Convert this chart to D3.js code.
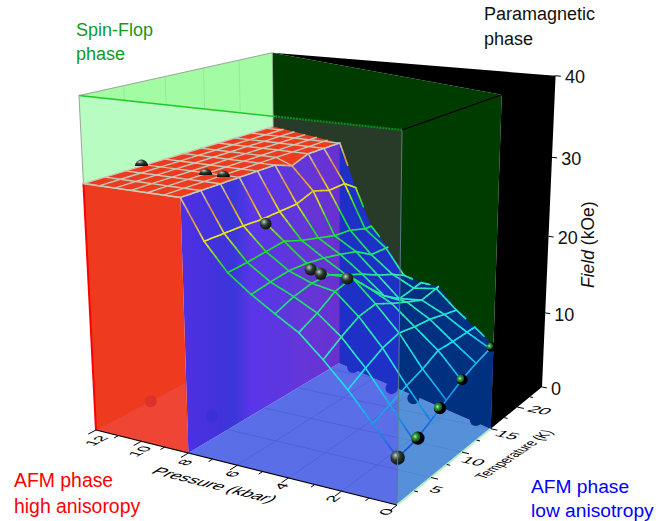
<!DOCTYPE html>
<html>
<head>
<meta charset="utf-8">
<style>
  body { margin: 0; background: #fff; }
  text { font-family: "Liberation Sans", Arial, sans-serif; }
</style>
<script src="https://cdn.jsdelivr.net/npm/d3@7"></script>
</head>
<body>
<svg id="chart" width="669" height="521"></svg>
<script>
// axis ticks
const pressureTicks = [0, 2, 4, 6, 8, 10, 12];
const pressureMinor = [1, 3, 5, 7, 9, 11];
const tempTicks = [5, 10, 15, 20];
const tempMinor = [2.5, 7.5, 12.5, 17.5, 22.5];
const fieldTicks = [0, 10, 20, 30, 40];

// surface H(P,T): one row per pressure, each row stops at the boundary T_N(P)
const meshPressures = [0, 0.89, 1.78, 2.67, 3.56, 4.44, 5.33, 6.22, 7.11, 8];
const meshTemps = [
    [0, 2.4, 4.8, 7.2, 9.6, 12, 14.4, 15],
    [0, 2.4, 4.8, 7.2, 9.6, 12, 14.4, 15.75],
    [0, 2.4, 4.8, 7.2, 9.6, 12, 14.4, 16.5],
    [0, 2.4, 4.8, 7.2, 9.6, 12, 14.4, 16.8, 17.2],
    [0, 2.4, 4.8, 7.2, 9.6, 12, 14.4, 16.8, 18],
    [0, 2.4, 4.8, 7.2, 9.6, 12, 14.4, 16.8, 18.7],
    [0, 2.4, 4.8, 7.2, 9.6, 12, 14.4, 16.8, 19.2, 19.5],
    [0, 2.4, 4.8, 7.2, 9.6, 12, 14.4, 16.8, 19.2, 20.2],
    [0, 2.4, 4.8, 7.2, 9.6, 12, 14.4, 16.8, 19.2, 21],
    [0, 2.4, 4.8, 7.2, 9.6, 12, 14.4, 16.8, 19.2, 21.7]
];
const meshFields = [
    [5.4, 5.8, 6.8, 7.9, 9.0, 9.8, 10.4, 10.5],
    [8.6, 9.4, 10.3, 11.0, 12.0, 11.9, 11.9, 11.9],
    [11.8, 13.0, 14.1, 14.7, 14.3, 14.1, 13.6, 13.2],
    [14.6, 16.0, 17.2, 17.6, 16.6, 15.7, 14.9, 15.3, 15.4],
    [17.1, 18.2, 19.6, 20.2, 18.0, 16.0, 14.6, 14.9, 15.1],
    [18.7, 19.6, 20.1, 20.1, 19.1, 18.2, 17.1, 16.2, 15.3],
    [20.4, 20.8, 21.1, 21.0, 20.7, 20.2, 19.6, 18.3, 18.2, 18.2],
    [22.4, 22.6, 22.9, 23.2, 22.4, 21.8, 21.2, 21.0, 20.3, 20.3],
    [25.5, 25.5, 25.5, 25.4, 25.5, 25.6, 26.4, 25.7, 25.8, 24.7],
    [30, 30, 30, 30, 30, 30, 29.2, 30, 30, 30]
];

// plateau above 8 kbar, flat at 30 kOe
const plateauPressures = [8, 8.67, 9.33, 10, 10.67, 11.33, 12];
const plateauTempEnd = [21.7, 22.2, 22.8, 23.3, 23.9, 24.4, 25];
const plateauTemps = [0, 2.4, 4.8, 7.2, 9.6, 12, 14.4, 16.8, 19.2, 21.6, 24];
const plateauField = 30;

// measured points
const pointP = [7.11, 5, 4.44, 3.56, 0, 0, 0, 0, 0];
const pointT = [7.7, 6.6, 6.0, 6.5, 0, 2.9, 6.2, 9.7, 14.6];
const pointH = [24.7, 20.7, 20.7, 20.4, 5.4, 5.9, 7.5, 9.0, 10.5];
const domeP = [12, 9.2, 8.5];
const domeT = [6.7, 6.6, 6.7];
const bumpP = [7.3, 4.9, 3.7, 0.8];
const bumpT = [21.4, 18.7, 17.6, 16.0];

// paramagnetic boundary T_N(P)
const boundaryT = [15, 21.7, 25];

const pScale = d3.scaleLinear().domain([0, 12]).range([0, 1]);
const tScale = d3.scaleLinear().domain([0, 25]).range([0, 1]);
const hScale = d3.scaleLinear().domain([0, 40]).range([0, 1]);

// perspective camera, fitted to the box corners of the picture
const persp = [0.129, 0.218, -0.075];
const origin = [397, 505];
const axisEnds = [[96, 430], [542, 387], [402, 130]];
const coef = axisEnds.map((e, i) => [e[0] * (1 + persp[i]) - origin[0], e[1] * (1 + persp[i]) - origin[1]]);

function project(P, T, H) {
    const q = [pScale(P), tScale(T), hScale(H)];
    const den = 1 + d3.sum(q, (d, i) => d * persp[i]);
    return [0, 1].map(k => (origin[k] + d3.sum(q, (d, i) => d * coef[i][k])) / den);
}

const svg = d3.select("#chart");
const defs = svg.append("defs");
const line = d3.line();

function poly(parent, pts, fill) {
    return parent.append("path")
        .attr("d", line(pts.map(p => project(p[0], p[1], p[2]))) + "Z")
        .attr("fill", fill);
}
function seg(parent, a, b, color, width) {
    return parent.append("path")
        .attr("d", line([project(a[0], a[1], a[2]), project(b[0], b[1], b[2])]))
        .attr("fill", "none").attr("stroke", color).attr("stroke-width", width);
}
function clip(id, pts) {
    defs.append("clipPath").attr("id", id).append("path")
        .attr("d", line(pts.map(p => project(p[0], p[1], p[2]))) + "Z");
}

const tn0 = boundaryT[0], tn8 = boundaryT[1], tn12 = boundaryT[2];

const leftWallPts = [[12, 0, 40], [12, tn12, 40], [12, tn12, 30], [12, 0, 30]];
const darkWallPts = [[12, tn12, 40], [0, tn0, 40], [0, tn0, 0], [12, tn12, 0]];
const sideFacePts = [[0, 0, 0], [0, tn0, 0], [0, tn0, 40], [0, 0, 40]];
const floorPts = [[8, 0, 0], [8, tn8, 0], [0, tn0, 0], [0, 0, 0]];
clip("clipLeft", leftWallPts);
clip("clipDark", darkWallPts);
clip("clipSide", sideFacePts);
clip("clipFloor", floorPts);

// back of the box
poly(svg, [[12, 25, 40], [0, 25, 40], [0, 25, 0], [0, tn0, 0], [0, tn0, 40]], "#000");
poly(svg, darkWallPts, "#003c00");
poly(svg, leftWallPts, "#a3fba3");
tempTicks.forEach(t => seg(svg, [12, t, 30], [12, t, 40], "#8fe498", 0.7));

// front face seen against each wall
const frontPts = [[12, 0, 40], [0, 0, 40], [0, 0, 0], [12, 0, 0]];
poly(svg.append("g").attr("clip-path", "url(#clipLeft)"), frontPts, "#b9fcc1");
poly(svg.append("g").attr("clip-path", "url(#clipDark)"), frontPts, "#283a28");

// wall under the surface, from the last vertex of each row
const lastCol = meshPressures.map((p, i) => [p, meshTemps[i][meshTemps[i].length - 1], meshFields[i][meshFields[i].length - 1]]).reverse();
const underWallPts = lastCol.concat([[0, tn0, 0], [8, tn8, 0]]);

function drawBase(parent, floorFill, wallFill, gridColor) {
    poly(parent, floorPts, floorFill);
    const grid = parent.append("g").attr("clip-path", "url(#clipFloor)");
    tempTicks.forEach(t => seg(grid, [0, t, 0], [8, t, 0], gridColor, 0.7));
    pressureTicks.filter(p => p > 0 && p < 8).forEach(p => seg(grid, [p, 0, 0], [p, 25, 0], gridColor, 0.7));
    poly(parent, underWallPts, wallFill);
    bumpP.forEach((p, i) => {
        const c = project(p, bumpT[i], 0);
        parent.append("circle").attr("cx", c[0]).attr("cy", c[1]).attr("r", 6).attr("fill", wallFill);
    });
}

drawBase(svg.append("g"), "#5a6ee8", "#1f30c6", "#4c5cd8");

// purple wall at 8 kbar
const purple = defs.append("linearGradient").attr("id", "purple")
    .attr("gradientUnits", "userSpaceOnUse")
    .attr("x1", project(8, 0, 0)[0]).attr("x2", project(8, tn8, 0)[0])
    .attr("y1", 0).attr("y2", 0);
[[0, "#4c30e2"], [0.2, "#4232dc"], [0.3, "#3a36d8"], [0.42, "#5a36e8"], [0.6, "#5c36e0"], [0.75, "#6436d8"], [1, "#6a30d0"]]
    .forEach(s => purple.append("stop").attr("offset", s[0]).attr("stop-color", s[1]));
const edge8 = meshTemps[9].map((t, j) => [8, t, meshFields[9][j]]);
poly(svg, [[8, 0, 0]].concat(edge8, [[8, tn8, 0]]), "url(#purple)");

// same floor and wall through the side face
drawBase(svg.append("g").attr("clip-path", "url(#clipSide)"), "#5590d8", "#003080", "#4d84cc");

// red front, 8 to 12 kbar
poly(svg, [[12, 0, 0], [8, 0, 0], [8, 0, 30], [12, 0, 30]], "#ee3a1e");
poly(svg, [[12, 0, 0], [12, 11.3, 0], [8, 0, 0]], "#ee4535");
seg(svg, [12, 0, 0], [12, 0, 30], "#ff0000", 2);

// faint ball projections on the floor
const f1 = project(domeP[0], domeT[0], 0), f2 = project(domeP[1], domeT[1], 0);
svg.append("circle").attr("cx", f1[0]).attr("cy", f1[1]).attr("r", 6).attr("fill", "#dc322c");
svg.append("circle").attr("cx", f2[0]).attr("cy", f2[1]).attr("r", 6).attr("fill", "#3a30d4");

// plateau
poly(svg, [[12, 0, 30], [8, 0, 30]].concat(edge8, [[12, tn12, 30]]), "#ee3a1e");
const plateauCol = "#c8c8b4";
const plateauGrid = svg.append("g").attr("fill", "none").attr("stroke", plateauCol).attr("stroke-width", 1.4);
plateauPressures.slice(1).forEach((p, i) => {
    const end = plateauTempEnd[i + 1];
    const temps = plateauTemps.filter(t => t < end).concat([end]);
    plateauGrid.append("path").attr("d", line(temps.map(t => project(p, t, plateauField))));
});
plateauTemps.forEach((t, j) => {
    const pts = plateauPressures.filter((p, i) => t <= plateauTempEnd[i]);
    const first = j < meshFields[9].length - 1 ? project(8, t, meshFields[9][j]) : null;
    const path = pts.map(p => project(p, t, plateauField));
    if (first) path[0] = first;
    if (path.length > 1) plateauGrid.append("path").attr("d", line(path));
});

// balls
function ballGradient(id, cx, cy, r, stops) {
    const g = defs.append("radialGradient").attr("id", id)
        .attr("cx", cx).attr("cy", cy).attr("r", r);
    stops.forEach(s => g.append("stop").attr("offset", s[0]).attr("stop-color", s[1]));
}
ballGradient("ballGray", 0.36, 0.34, 0.72, [[0, "#cfdccf"], [0.18, "#7d8d84"], [0.45, "#2c3a32"], [0.85, "#101a14"], [1, "#060a08"]]);
ballGradient("ballGreen", 0.3, 0.38, 0.82, [[0, "#c0ecb8"], [0.2, "#36963c"], [0.42, "#0e601c"], [0.5, "#000"], [1, "#000"]]);

const ballR = d3.scaleLinear().domain([0, 15]).range([7.2, 4.6]);

// domes half sunk in the plateau
domeP.forEach((p, i) => {
    const c = project(p, domeT[i], plateauField);
    const r = 6.5;
    svg.append("path")
        .attr("d", `M${c[0] - r},${c[1]}A${r},${r} 0 0 1 ${c[0] + r},${c[1]}Z`)
        .attr("fill", "url(#ballGray)");
});

// mesh, coloured by field
const meshColor = d3.scaleLinear()
    .domain([5, 8, 12, 16, 20, 23, 25.5, 28, 30])
    .range(["#1c3ce0", "#1a90e0", "#18e0f0", "#30e8b0", "#18e060", "#20e020", "#e8e818", "#e09030", "#c8c8b4"]);
const steps = d3.range(6);
const mesh = svg.append("g").attr("fill", "none").attr("stroke-width", 1.6).attr("stroke-linecap", "round");

function meshEdge(a, b, part) {
    steps.forEach(k => {
        const t0 = part * k / steps.length, t1 = part * (k + 1) / steps.length;
        const at = t => a.map((v, n) => v + (b[n] - v) * t);
        const p0 = at(t0), p1 = at(t1);
        mesh.append("path")
            .attr("d", line([project(p0[0], p0[1], p0[2]), project(p1[0], p1[1], p1[2])]))
            .attr("stroke", meshColor((p0[2] + p1[2]) / 2));
    });
}
meshPressures.forEach((p, i) => {
    meshTemps[i].forEach((t, j) => {
        const here = [p, t, meshFields[i][j]];
        const lastHere = j === meshTemps[i].length - 1;
        if (!lastHere) meshEdge(here, [p, meshTemps[i][j + 1], meshFields[i][j + 1]], 1);
        if (i < 9 && j < meshTemps[i + 1].length) {
            const lastNext = j === meshTemps[i + 1].length - 1;
            const next = [meshPressures[i + 1], meshTemps[i + 1][j], meshFields[i + 1][j]];
            // along the boundary only a stub is drawn, from the higher pressure side
            if (lastHere && lastNext) meshEdge(next, here, 0.5);
            else meshEdge(here, next, 1);
        }
    });
});

pointP.forEach((p, i) => {
    const c = project(p, pointT[i], pointH[i]);
    const green = p === 0 && pointT[i] > 0;
    svg.append("circle").attr("cx", c[0]).attr("cy", c[1]).attr("r", ballR(pointT[i]))
        .attr("fill", green ? "url(#ballGreen)" : "url(#ballGray)");
});

// box edges
seg(svg, [12, 0, 40], [12, 0, 30], "#9aa69a", 1);
seg(svg, [12, 0, 40], [12, 25, 40], "#9aa69a", 1);
seg(svg, [12, 25, 40], [12, 25, 30], "#90a890", 0.8);
seg(svg, [12, 0, 40], [4.35, 0, 40], "#20c828", 1.6);
seg(svg, [4.35, 0, 40], [0, 0, 40], "#0a8c1e", 2.2).attr("stroke-dasharray", "2,1");
seg(svg, [0, 0, 40], [0, tn0, 40], "#001c00", 1);
seg(svg, [0, 0, 40], [0, 0, 0], "#5f7b86", 1);
seg(svg, [12, 0, 30], [8, 0, 30], plateauCol, 1.6);

// axes
seg(svg, [12, 0, 0], [0, 0, 0], "#000", 1.2);
seg(svg, [0, 0, 0], [0, tn0, 0], "#b4f0c4", 2);
seg(svg, [0, 0, 40], [0, 25, 40], "#000", 1);

function dir(a, b) {
    const p = project(a[0], a[1], a[2]), q = project(b[0], b[1], b[2]);
    const len = Math.hypot(q[0] - p[0], q[1] - p[1]);
    return [(q[0] - p[0]) / len, (q[1] - p[1]) / len];
}
// text lying on the floor: along e1, glyph bottom towards e2
function floorText(str, at, e1, e2, s1, s2, size) {
    return svg.append("text")
        .attr("transform", `matrix(${e1[0] * s1},${e1[1] * s1},${e2[0] * s2},${e2[1] * s2},${at[0]},${at[1]})`)
        .attr("text-anchor", "middle").attr("font-size", size).attr("fill", "#000").text(str);
}

const pLabelDx = d3.scaleLinear().domain([0, 12]).range([-6, 5]);
const pLabelDy = d3.scaleLinear().domain([0, 12]).range([8, 12]);
pressureMinor.forEach(p => seg(svg, [p, 0, 0], [p, -0.5, 0], "#000", 1));
pressureTicks.forEach(p => {
    seg(svg, [p, 0, 0], [p, -0.9, 0], "#000", 1);
    const c = project(p, 0, 0);
    floorText(String(p), [c[0] + pLabelDx(p), c[1] + pLabelDy(p)], dir([p, 0, 0], [p, 10, 0]), dir([p, 0, 0], [p - 5, 0, 0]), 1.3, 1.1, 13);
});
const tLabelDx = d3.scaleLinear().domain([5, 20]).range([2, 19]);
const tLabelDy = d3.scaleLinear().domain([5, 20]).range([15, 6]);
tempMinor.forEach(t => seg(svg, [0, t, 0], [-0.13, t, 0], "#000", 1));
tempTicks.forEach(t => {
    seg(svg, [0, t, 0], [-0.26, t, 0], "#000", 1);
    const c = project(0, t, 0);
    floorText(String(t), [c[0] + tLabelDx(t), c[1] + tLabelDy(t)], dir([12, t, 0], [0, t, 0]), dir([0, t, 0], [0, t - 5, 0]), 1.45, 1.0, 13);
});

floorText("Pressure (kbar)", [210, 488], dir([12, 0, 0], [0, 0, 0]), dir([6, 0, 0], [6, -5, 0]), 1.38, 1.25, 13);
floorText("Temperature (K)", [519, 456], [0.83, -0.56], [0.95, 0.3], 0.9, 1.2, 13);

fieldTicks.forEach(h => {
    seg(svg, [0, 25, h], [-0.2, 25, h], "#000", 1);
    const c = project(-0.28, 25, h);
    svg.append("text").attr("x", c[0] + 2).attr("y", c[1] + 6.5)
        .attr("font-size", 18).attr("fill", "#111").text(h);
});
svg.append("text").attr("transform", "translate(594,288) rotate(-90)")
    .attr("font-size", 17.5).attr("fill", "#111")
    .html('<tspan font-style="italic">Field</tspan> (kOe)');

// phase names
const names = [
    { text: ["Spin-Flop", "phase"], x: 76, y: [36, 60], color: "#0f9a1f", size: 18 },
    { text: ["Paramagnetic", "phase"], x: 484, y: [20, 45], color: "#111", size: 18 },
    { text: ["AFM phase", "high anisoropy"], x: 14, y: [487, 513], color: "#ff0000", size: 19.4 },
    { text: ["AFM phase", "low anisotropy"], x: 531, y: [493, 517], color: "#0000ff", size: 19.2 }
];
names.forEach(n => n.text.forEach((s, i) => {
    svg.append("text").attr("x", n.x).attr("y", n.y[i])
        .attr("font-size", n.size).attr("fill", n.color).text(s);
}));
</script>
</body>
</html>
